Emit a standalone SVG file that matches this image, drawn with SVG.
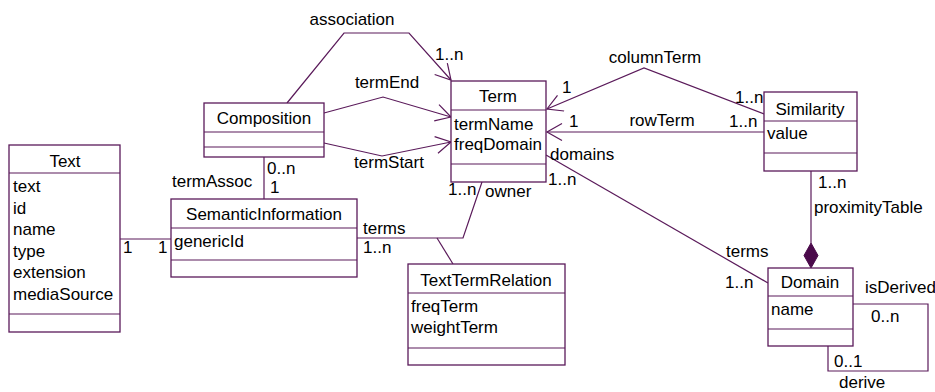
<svg xmlns="http://www.w3.org/2000/svg" width="935" height="392" viewBox="0 0 935 392">
<defs>
<style>
text{font-family:'Liberation Sans',Arial,Helvetica,sans-serif;font-size:17px;fill:#000}
.c{text-anchor:middle}
.box{fill:#fff;stroke:#5a1a5a;stroke-width:1.3}
.ln{fill:none;stroke:#5a1a5a;stroke-width:1.2}
.arr{marker-end:url(#open)}
</style>
<marker id="open" markerUnits="userSpaceOnUse" markerWidth="20" markerHeight="20" refX="17" refY="9" orient="auto" viewBox="0 0 20 20">
<path d="M2,0.5 L17,9 L2,17.5" fill="none" stroke="#5a1a5a" stroke-width="1.2"/>
</marker>
</defs>
<rect width="935" height="392" fill="#fff"/>

<g id="connectors">
<polyline class="ln arr" points="287,103 344,33 409,33 451,80"/>
<polyline class="ln arr" points="324,113 383,97 451,117"/>
<polyline class="ln arr" points="324,143 382,156 451,142"/>
<line class="ln" x1="264" y1="157" x2="264" y2="199"/>
<line class="ln" x1="120" y1="239" x2="171" y2="239"/>
<polyline class="ln" points="357,238 463,238 482,182"/>
<line class="ln" x1="437" y1="238" x2="453" y2="264"/>
<line class="ln" x1="546" y1="155" x2="768" y2="283"/>
<polyline class="ln arr" points="764,114 644,68 547,109"/>
<line class="ln arr" x1="764" y1="132" x2="547" y2="132"/>
<line class="ln" x1="811" y1="171" x2="811" y2="243"/>
<path d="M811,243 L818,255.5 L811,268 L804,255.5 Z" fill="#4b0a4b" stroke="#4b0a4b"/>
<polyline class="ln" points="853,304 928,304 928,371 828,371 828,346"/>

<text class="c" x="352" y="25">association</text>
<text x="435" y="60">1..n</text>
<text class="c" x="387" y="88">termEnd</text>
<text class="c" x="389" y="168">termStart</text>
<text x="267" y="174">0..n</text>
<text x="270" y="193">1</text>
<text x="172" y="187">termAssoc</text>
<text x="123" y="253">1</text>
<text x="158" y="253">1</text>
<text x="363" y="234">terms</text>
<text x="363" y="253">1..n</text>
<text x="448" y="195">1..n</text>
<text x="485" y="197">owner</text>
<text x="550" y="160">domains</text>
<text x="548" y="185">1..n</text>
<text x="726" y="257">terms</text>
<text x="725" y="288">1..n</text>
<text class="c" x="655" y="63">columnTerm</text>
<text x="562" y="93">1</text>
<text x="735" y="103">1..n</text>
<text x="569" y="127">1</text>
<text class="c" x="662" y="126">rowTerm</text>
<text x="729" y="127">1..n</text>
<text x="818" y="188">1..n</text>
<text x="814" y="213">proximityTable</text>
<text x="865" y="293">isDerived</text>
<text x="871" y="322">0..n</text>
<text x="834" y="367">0..1</text>
<text x="839" y="388">derive</text>
</g>

<g id="Composition">
<rect class="box" x="204" y="103" width="120" height="54"/>
<line class="ln" x1="204" y1="132" x2="324" y2="132"/>
<line class="ln" x1="204" y1="147" x2="324" y2="147"/>
<text class="c" x="264" y="124">Composition</text>
</g>

<g id="Term">
<rect class="box" x="451" y="81" width="95" height="101"/>
<line class="ln" x1="451" y1="110" x2="546" y2="110"/>
<line class="ln" x1="451" y1="164" x2="546" y2="164"/>
<text class="c" x="498" y="102">Term</text>
<text x="454" y="130">termName</text>
<text x="454" y="150">freqDomain</text>
</g>

<g id="Similarity">
<rect class="box" x="764" y="92" width="93" height="79"/>
<line class="ln" x1="764" y1="121" x2="857" y2="121"/>
<line class="ln" x1="764" y1="153" x2="857" y2="153"/>
<text class="c" x="810" y="115">Similarity</text>
<text x="767" y="139">value</text>
</g>

<g id="Text">
<rect class="box" x="9" y="145" width="111" height="187"/>
<line class="ln" x1="9" y1="173" x2="120" y2="173"/>
<line class="ln" x1="9" y1="314" x2="120" y2="314"/>
<text class="c" x="65" y="167">Text</text>
<text x="13" y="192">text</text>
<text x="13" y="213.5">id</text>
<text x="13" y="235">name</text>
<text x="13" y="256.5">type</text>
<text x="13" y="278">extension</text>
<text x="13" y="299.5">mediaSource</text>
</g>

<g id="SemanticInformation">
<rect class="box" x="171" y="199" width="186" height="78"/>
<line class="ln" x1="171" y1="228" x2="357" y2="228"/>
<line class="ln" x1="171" y1="260" x2="357" y2="260"/>
<text class="c" x="264" y="220">SemanticInformation</text>
<text x="174" y="247">genericId</text>
</g>

<g id="TextTermRelation">
<rect class="box" x="408" y="264" width="157" height="101"/>
<line class="ln" x1="408" y1="293" x2="565" y2="293"/>
<line class="ln" x1="408" y1="348" x2="565" y2="348"/>
<text class="c" x="486" y="286">TextTermRelation</text>
<text x="411" y="312">freqTerm</text>
<text x="411" y="333">weightTerm</text>
</g>

<g id="Domain">
<rect class="box" x="768" y="268" width="85" height="78"/>
<line class="ln" x1="768" y1="296" x2="853" y2="296"/>
<line class="ln" x1="768" y1="329" x2="853" y2="329"/>
<text class="c" x="810" y="288">Domain</text>
<text x="771" y="315">name</text>
</g>
</svg>
